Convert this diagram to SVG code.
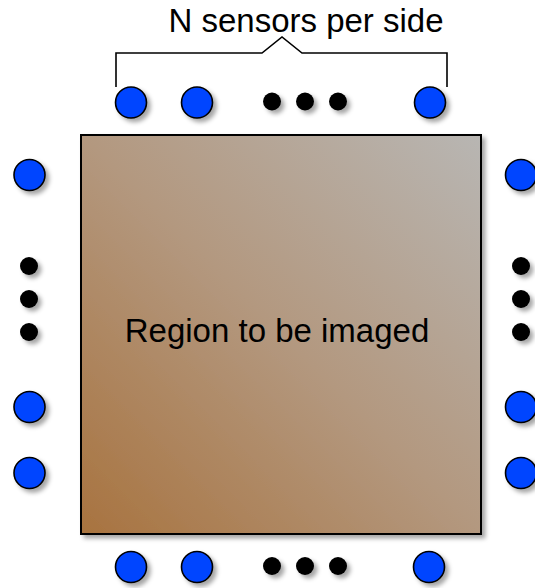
<svg xmlns="http://www.w3.org/2000/svg" width="535" height="588" viewBox="0 0 535 588">
  <defs>
    <linearGradient id="fillGrad" x1="0" y1="1" x2="1" y2="0">
      <stop offset="0" stop-color="#a8733f"/>
      <stop offset="0.5" stop-color="#b3987f"/>
      <stop offset="1" stop-color="#b8b6b3"/>
    </linearGradient>
    <filter id="shadow" x="-30%" y="-30%" width="170%" height="170%">
      <feDropShadow dx="3.5" dy="3.5" stdDeviation="2" flood-color="#000" flood-opacity="0.35"/>
    </filter>
    <g id="sensor"><circle r="15.5" class="sensor"/></g>
    <g id="dot"><circle r="9" class="dot"/></g>
  </defs>
  <style>
    .sensor { fill: #0044ff; stroke: #000; stroke-width: 1.6; filter: url(#shadow); }
    .dot { fill: #000; filter: url(#shadow); }
    .lbl { font-family: "Liberation Sans", Arial, sans-serif; font-size: 33px; fill: #000; text-anchor: middle; }
    .bracket { fill: none; stroke: #000; stroke-width: 1.6; }
  </style>
  <rect width="535" height="588" fill="#fff"/>

  <g id="region">
    <rect x="81" y="135" width="400" height="399" fill="url(#fillGrad)" stroke="#000" stroke-width="2" filter="url(#shadow)"/>
    <text class="lbl" x="277" y="341.5">Region to be imaged</text>
  </g>

  <g id="label-top">
    <text class="lbl" x="306" y="31.5">N sensors per side</text>
  </g>

  <g id="connectors">
    <path class="bracket" d="M116,87 V53 H262 L282,37 L302,53 H447 V87"/>
  </g>

  <g id="top-side">
    <use href="#sensor" x="131" y="102.5"/>
    <use href="#sensor" x="197" y="102.5"/>
    <use href="#dot" x="272" y="101.5"/>
    <use href="#dot" x="305" y="101.5"/>
    <use href="#dot" x="338" y="101.5"/>
    <use href="#sensor" x="430" y="102.5"/>
  </g>

  <g id="bottom-side">
    <use href="#sensor" x="131" y="567"/>
    <use href="#sensor" x="197" y="567"/>
    <use href="#dot" x="272" y="566"/>
    <use href="#dot" x="305" y="566"/>
    <use href="#dot" x="338" y="566"/>
    <use href="#sensor" x="429" y="567"/>
  </g>

  <g id="left-side">
    <use href="#sensor" x="29.5" y="175"/>
    <use href="#dot" x="29" y="266"/>
    <use href="#dot" x="29" y="299"/>
    <use href="#dot" x="29" y="332"/>
    <use href="#sensor" x="29.5" y="407"/>
    <use href="#sensor" x="29.5" y="473"/>
  </g>

  <g id="right-side">
    <use href="#sensor" x="521" y="175"/>
    <use href="#dot" x="521" y="266"/>
    <use href="#dot" x="521" y="299"/>
    <use href="#dot" x="521" y="332"/>
    <use href="#sensor" x="521" y="407"/>
    <use href="#sensor" x="521" y="473"/>
  </g>
</svg>
